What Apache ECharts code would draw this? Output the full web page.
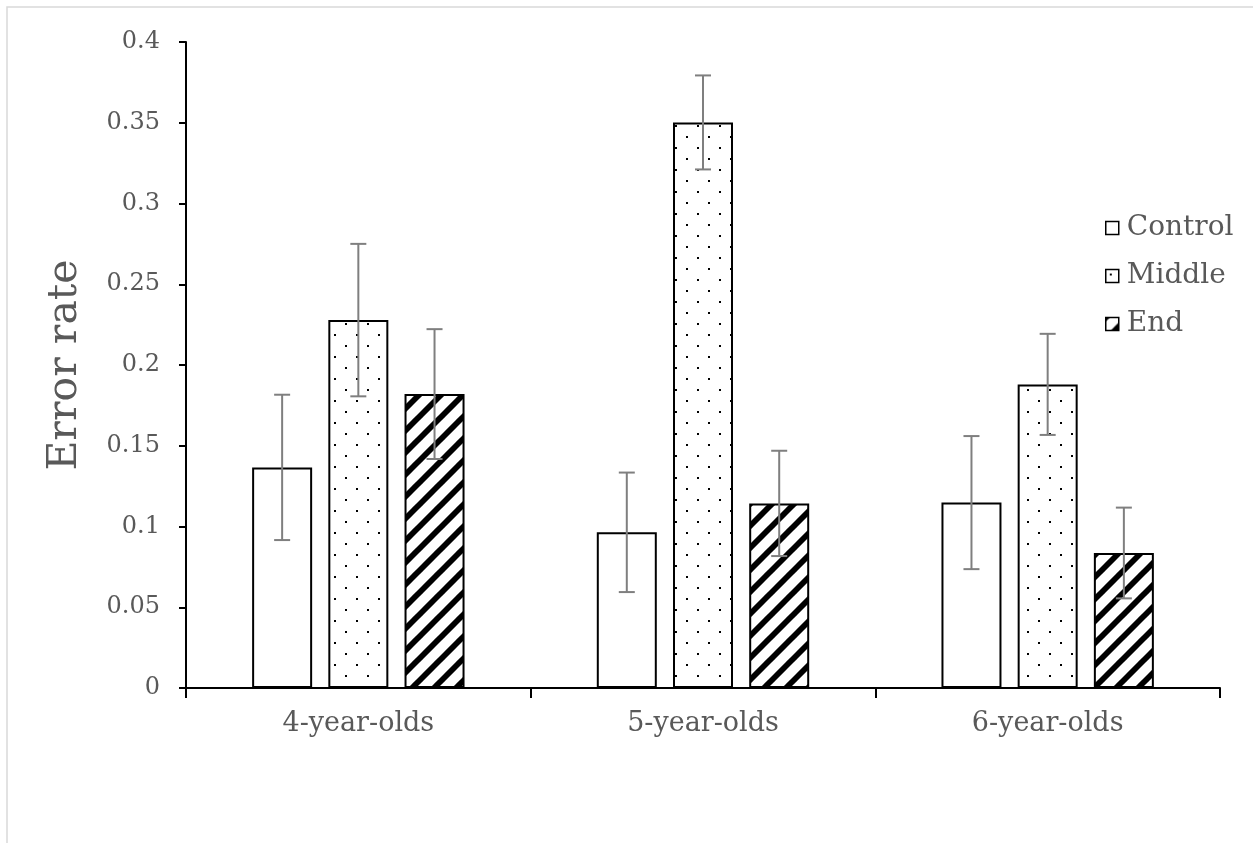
<!DOCTYPE html>
<html>
<head>
<meta charset="utf-8">
<script src="https://cdn.jsdelivr.net/npm/echarts@6/dist/echarts.min.js"></script>
<style>
html,body{margin:0;padding:0;background:#fff;}
#chart{width:1253px;height:843px;}
</style>
</head>
<body>
<div id="chart"></div>
<script>
var categories = ['4-year-olds', '5-year-olds', '6-year-olds'];
var seriesNames = ['Control', 'Middle', 'End'];
var controlValues = [0.1366, 0.0964, 0.1148];
var middleValues = [0.2278, 0.3502, 0.1880];
var endValues = [0.1820, 0.1143, 0.0836];
var controlErrors = [0.0450, 0.0370, 0.0412];
var middleErrors = [0.0472, 0.0291, 0.0313];
var endErrors = [0.0402, 0.0326, 0.0281];
var yTicks = { min: 0, max: 0.4, interval: 0.05 };

var FONT = 'DejaVu Serif';
var TEXT = '#595959';

function dotPattern() {
  var c = document.createElement('canvas');
  c.width = 22; c.height = 22;
  var g = c.getContext('2d');
  g.fillStyle = '#fff'; g.fillRect(0, 0, 22, 22);
  g.fillStyle = '#000';
  g.fillRect(4, 4, 2, 2);
  g.fillRect(15, 15, 2, 2);
  return c;
}
function stripePattern() {
  var s = 22;
  var c = document.createElement('canvas');
  c.width = s; c.height = s;
  var g = c.getContext('2d');
  g.fillStyle = '#fff'; g.fillRect(0, 0, s, s);
  g.strokeStyle = '#000';
  g.lineWidth = 5.8;
  g.lineCap = 'square';
  [-s, 0, s].forEach(function (k) {
    g.beginPath();
    g.moveTo(k - 6, s + 6);
    g.lineTo(k + s + 6, -6);
    g.stroke();
  });
  return c;
}

var fills = [
  '#ffffff',
  { image: dotPattern(), repeat: 'repeat' },
  { image: stripePattern(), repeat: 'repeat' }
];
var values = [controlValues, middleValues, endValues];
var errors = [controlErrors, middleErrors, endErrors];

var BAR_W = 60, BAR_GAP = 0.27;

var series = [];
seriesNames.forEach(function (name, i) {
  series.push({
    name: name,
    type: 'bar',
    data: values[i],
    barWidth: BAR_W,
    barGap: (BAR_GAP * 100) + '%',
    itemStyle: { color: fills[i], borderColor: '#000', borderWidth: 2 },
    emphasis: { disabled: true },
    z: 2
  });
});
seriesNames.forEach(function (name, i) {
  var data = values[i].map(function (v, j) {
    return [j, v - errors[i][j], v + errors[i][j]];
  });
  series.push({
    name: name + ' error',
    type: 'custom',
    data: data,
    z: 5,
    silent: true,
    renderItem: function (params, api) {
      var x = api.value(0);
      var lo = api.coord([x, api.value(1)]);
      var hi = api.coord([x, api.value(2)]);
      var off = (i - 1) * BAR_W * (1 + BAR_GAP);
      var cx = lo[0] + off;
      var hw = 8;
      var st = { stroke: '#7f7f7f', lineWidth: 2, fill: null };
      return {
        type: 'group',
        children: [
          { type: 'line', shape: { x1: cx, y1: lo[1], x2: cx, y2: hi[1] }, style: st },
          { type: 'line', shape: { x1: cx - hw, y1: lo[1], x2: cx + hw, y2: lo[1] }, style: st },
          { type: 'line', shape: { x1: cx - hw, y1: hi[1], x2: cx + hw, y2: hi[1] }, style: st }
        ]
      };
    }
  });
});

var chart = echarts.init(document.getElementById('chart'));
chart.setOption({
  backgroundColor: '#ffffff',
  animation: false,
  graphic: [{
    type: 'rect',
    shape: { x: 7, y: 7, width: 1400, height: 1000 },
    style: { fill: null, stroke: '#d9d9d9', lineWidth: 1.5 },
    silent: true,
    z: -10
  }],
  grid: { left: 186, right: 33, top: 42, bottom: 155 },
  legend: {
    data: seriesNames,
    orient: 'vertical',
    left: 1100,
    top: 208,
    itemWidth: 13,
    itemHeight: 13,
    itemGap: 18,
    icon: 'rect',
    selectedMode: false,
    itemStyle: { borderColor: '#000', borderWidth: 1.5 },
    textStyle: { fontFamily: FONT, fontSize: 28, color: TEXT, lineHeight: 30, padding: [0, 0, 0, 3] }
  },
  xAxis: {
    type: 'category',
    data: categories,
    axisLine: { lineStyle: { color: '#000', width: 2 } },
    axisTick: { show: true, length: 10, lineStyle: { color: '#000', width: 2 } },
    axisLabel: { fontFamily: FONT, fontSize: 27, color: TEXT, margin: 22 },
    splitLine: { show: false }
  },
  yAxis: {
    type: 'value',
    min: yTicks.min,
    max: yTicks.max,
    interval: yTicks.interval,
    name: 'Error rate',
    nameLocation: 'middle',
    nameGap: 100,
    nameTextStyle: { fontFamily: FONT, fontSize: 41, color: TEXT },
    axisLine: { show: true, lineStyle: { color: '#000', width: 2 } },
    axisTick: { show: true, length: 7, lineStyle: { color: '#000', width: 2 } },
    axisLabel: { fontFamily: FONT, fontSize: 24, color: TEXT, margin: 26 },
    splitLine: { show: false }
  },
  series: series
});
</script>
</body>
</html>
